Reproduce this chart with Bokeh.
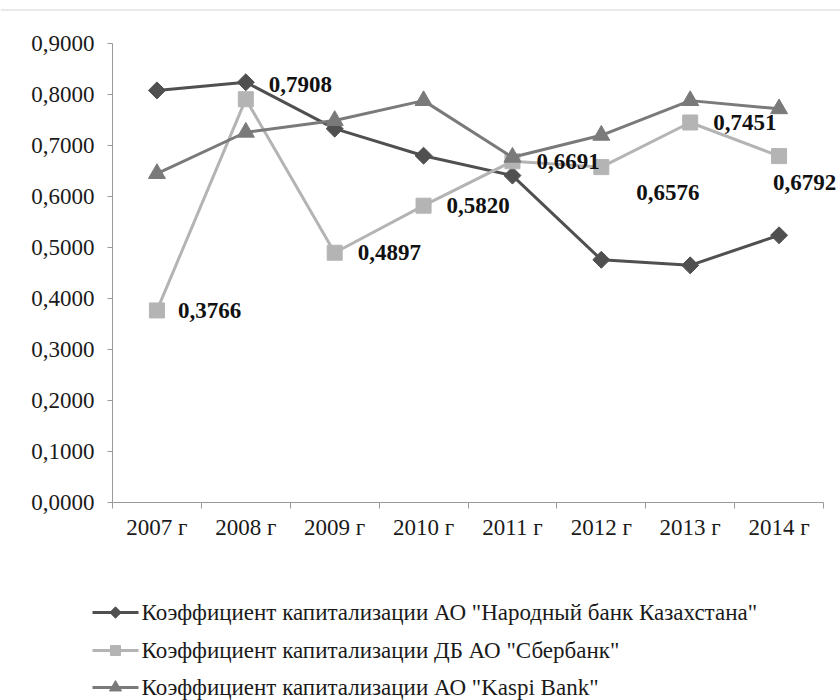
from bokeh.plotting import figure
from bokeh.models import Range1d, FixedTicker, ColumnDataSource, LabelSet
from bokeh.core.properties import value
from bokeh.embed import file_html
from bokeh.resources import INLINE

# ---- data ----
years = ["2007 г", "2008 г", "2009 г", "2010 г", "2011 г", "2012 г", "2013 г", "2014 г"]
narodny = [0.808, 0.824, 0.733, 0.680, 0.641, 0.476, 0.465, 0.524]
sberbank = [0.3766, 0.7908, 0.4897, 0.5820, 0.6691, 0.6576, 0.7451, 0.6792]
kaspi = [0.645, 0.726, 0.749, 0.788, 0.677, 0.720, 0.788, 0.772]
y_ticks = [0.0, 0.1, 0.2, 0.3, 0.4, 0.5, 0.6, 0.7, 0.8, 0.9]
y_tick_labels = ["0,0000", "0,1000", "0,2000", "0,3000", "0,4000",
                 "0,5000", "0,6000", "0,7000", "0,8000", "0,9000"]
series_names = [
    'Коэффициент капитализации  АО "Народный банк Казахстана"',
    'Коэффициент капитализации  ДБ АО "Сбербанк"',
    'Коэффициент капитализации  АО "Kaspi Bank"',
]

# ---- styling (not data) ----
FONT = "Liberation Serif"
TXT = "#1a1a1a"
C_NAR = "#505050"
C_SBER = "#b4b4b4"
C_KASPI = "#7a7a7a"
AXIS_C = "#9a9a9a"
label_dx = [21, 23, 23, 23, 24, 35, 23, -6]
label_dy = [0, 15, 0, 0, 0, -25, 0, -26]
series_style = [  # colour, marker, angle, size (chart), size (legend)
    (C_NAR, "square", 0.785398, 12, 8),
    (C_SBER, "square", 0.0, 15, 10),
    (C_KASPI, "triangle", 0.0, 17, 12),
]

W = 840
LEFT = 112           # frame left (px)
AXIS_LEN = 711       # pixel length of the category axis
FRAME_W = W - LEFT   # frame runs to the right edge so labels are not clipped
n = len(years)
x_end = n * FRAME_W / AXIS_LEN
xs = [i + 0.5 for i in range(n)]


def blank(height, xr, yr):
    f = figure(width=W, height=height, output_backend="svg", toolbar_location=None,
               x_range=xr, y_range=yr, x_axis_location=None, y_axis_location=None,
               min_border=0)
    f.outline_line_color = None
    f.xgrid.grid_line_color = None
    f.ygrid.grid_line_color = None
    f.background_fill_color = "white"
    f.border_fill_color = "white"
    return f


# thin rule at the top of the page
top = blank(12, Range1d(0, W), Range1d(12, 0))
top.segment(x0=0, x1=W, y0=9.5, y1=9.5, line_color="#d4d4d4", line_width=1.2)

# ---- main chart ----
p = figure(width=W, height=560, output_backend="svg", toolbar_location=None,
           x_range=Range1d(0, x_end), y_range=Range1d(0, 0.9),
           min_border_left=LEFT, min_border_right=0, min_border_top=31,
           min_border_bottom=70)
p.outline_line_color = None
p.xgrid.grid_line_color = None
p.ygrid.grid_line_color = None
p.background_fill_color = "white"
p.border_fill_color = "white"

p.xaxis.bounds = (0, n)
p.xaxis.ticker = FixedTicker(ticks=xs, minor_ticks=list(range(n + 1)))
p.xaxis.major_label_overrides = {x: y for x, y in zip(xs, years)}
p.xaxis.major_tick_out = 0
p.xaxis.major_tick_in = 0
p.xaxis.minor_tick_out = 6
p.xaxis.minor_tick_in = 0
p.xaxis.minor_tick_line_color = AXIS_C
p.xaxis.major_label_standoff = 6

p.yaxis.ticker = FixedTicker(ticks=y_ticks, minor_ticks=[])
p.yaxis.major_label_overrides = {t: l for t, l in zip(y_ticks, y_tick_labels)}
p.yaxis.major_tick_out = 5
p.yaxis.major_tick_in = 0
p.yaxis.minor_tick_line_color = None
p.yaxis.major_label_standoff = 13

for ax in (p.xaxis, p.yaxis):
    ax.axis_line_color = AXIS_C
    ax.major_tick_line_color = AXIS_C
    ax.major_label_text_font = FONT
    ax.major_label_text_font_size = "23px"
    ax.major_label_text_color = TXT

for vals, (col, mk, ang, sz, _) in zip([narodny, sberbank, kaspi], series_style):
    p.line(xs, vals, line_color=col, line_width=3)
    p.scatter(xs, vals, marker=mk, angle=ang, size=sz, fill_color=col, line_color=col)

src = ColumnDataSource(dict(
    x=xs, y=sberbank,
    text=[f"{v:.4f}".replace(".", ",") for v in sberbank],
    dx=label_dx, dy=label_dy,
))
p.add_layout(LabelSet(x="x", y="y", text="text", source=src,
                      x_offset="dx", y_offset="dy",
                      text_font=value(FONT), text_font_size="23px",
                      text_font_style="bold", text_color="#111111",
                      text_align="left", text_baseline="middle"))

# ---- legend strip (own root, so its frame is not aligned to the chart) ----
lg = blank(128, Range1d(0, W), Range1d(128, 0))
row_y = [40, 78, 115]
for name, (col, mk, ang, _, lsz), ry in zip(series_names, series_style, row_y):
    lg.segment(x0=92, x1=138, y0=ry, y1=ry, line_color=col, line_width=3)
    lg.scatter(x=[115], y=[ry], marker=mk, angle=ang, size=lsz,
               fill_color=col, line_color=col)
    lg.text(x=[141], y=[ry], text=[name], text_font=value(FONT),
            text_font_size="23px", text_color=TXT,
            text_align="left", text_baseline="middle")

open("out.html", "w").write(file_html([top, p, lg], INLINE))
